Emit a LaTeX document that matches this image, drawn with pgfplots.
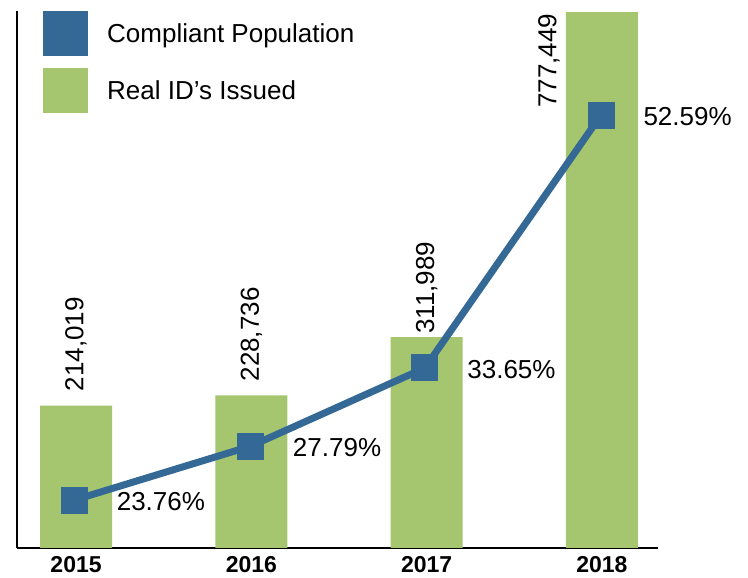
\documentclass[border=0pt]{standalone}
\usepackage{pgfplots}
\pgfplotsset{compat=1.18}
\usepackage{fontspec}
\setmainfont{Liberation Sans}
\definecolor{cblue}{RGB}{52,105,150}
\definecolor{cgreen}{RGB}{165,198,110}
\begin{document}
\begin{tikzpicture}[x=1pt,y=1pt]
\path (0,0) rectangle (748,578);
\pgfplotsset{base/.style={scale only axis, width=641pt, height=537pt,
  at={(17pt,30pt)}, anchor=south west, xmin=-0.337, xmax=3.32}}
\tikzset{lbl/.style={rotate=90, anchor=west, inner sep=0pt, font=\fontsize{26}{30}\selectfont}}
% bars
\begin{axis}[base, ymin=10000, ymax=779000,
  axis x line*=bottom, axis y line*=left,
  axis line style={line width=2.5pt, -},
  ytick=\empty, xtick={0,1,2,3}, xticklabels={2015,2016,2017,2018},
  major tick length=0pt,
  xticklabel style={font=\fontsize{23}{24}\selectfont\bfseries, inner sep=0pt,
    anchor=north, text height=16.5pt, text depth=0pt, yshift=-8pt},
  ybar, bar width=72pt, clip=true]
\addplot[fill=cgreen, draw=none] coordinates {(0,214019) (1,228736) (2,311989) (3,777449)};
\end{axis}
% bar labels
\begin{axis}[base, ymin=10000, ymax=779000, hide axis, clip=false]
\node[lbl] at ([yshift=14pt]axis cs:0,214019) {214,019};
\node[lbl] at ([yshift=13.6pt]axis cs:1,228736) {228,736};
\node[lbl] at ([yshift=3pt]axis cs:2,311989) {311,989};
\node[lbl] at (axis cs:2.698,640100) {777,449};
\end{axis}
% line
\begin{axis}[base, ymin=20.17, ymax=60.38, hide axis, clip=false,
  legend image code/.code={\fill[#1] (0pt,-22.5pt) rectangle (45pt,22.5pt);},
  legend style={draw=none, fill=none, at={(0.0406,1)}, anchor=north west,
    inner sep=0pt, row sep=12pt, column sep=19pt,
    font=\fontsize{26}{30}\selectfont, nodes={inner sep=0pt}},
  legend cell align=left]
\addlegendimage{fill=cblue, draw=none}
\addlegendentry{Compliant Population}
\addlegendimage{fill=cgreen, draw=none}
\addlegendentry{Real ID’s Issued}
\addplot[cblue, line width=7pt, mark=square*, mark size=10pt,
  mark options={draw=none, fill=cblue}, forget plot,
  point meta=y,
  nodes near coords={\pgfmathprintnumber[fixed, precision=2, fixed zerofill, assume math mode=true]{\pgfplotspointmeta}\%},
  nodes near coords style={anchor=west, xshift=39pt, yshift=-1pt, text height=18.6pt,
    text depth=0pt, inner sep=0pt, font=\fontsize{26}{30}\selectfont, text=black}]
  coordinates {(-0.01,23.76) (0.995,27.79) (1.99,33.65) (2.995,52.59)};
\end{axis}
\end{tikzpicture}
\end{document}
